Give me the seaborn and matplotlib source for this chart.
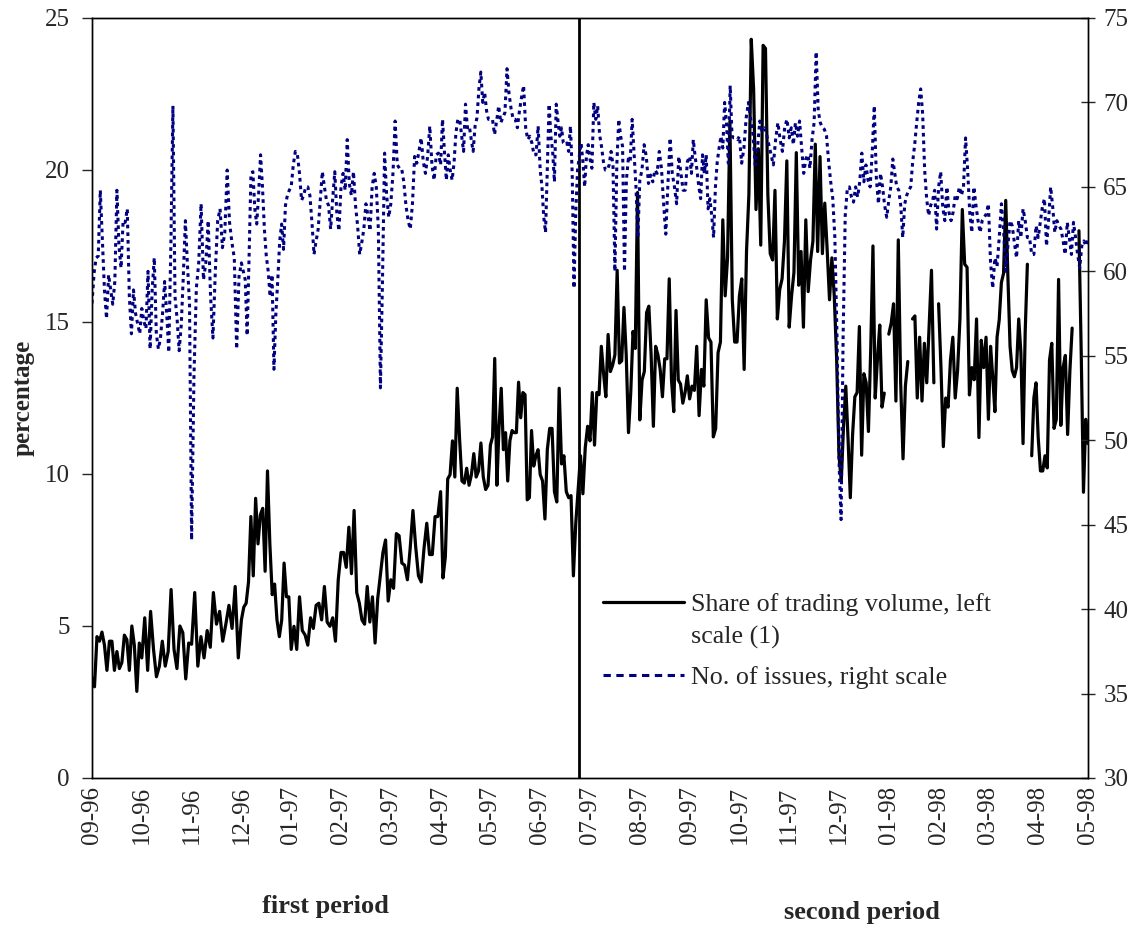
import numpy as np
import pandas as pd
import matplotlib.pyplot as plt
import seaborn as sns

# Tick labels (month-year), one per month boundary
month_labels = [
    "09-96", "10-96", "11-96", "12-96", "01-97", "02-97", "03-97",
    "04-97", "05-97", "06-97", "07-97", "08-97", "09-97", "10-97",
    "11-97", "12-97", "01-98", "02-98", "03-98", "04-98", "05-98",
]

# Share of trading volume (%), left scale - daily values grouped by month
nan = np.nan
share_volume = [
    [3.3, 3.0, 4.65, 4.5, 4.8, 4.37, 3.54, 4.5, 4.5, 3.54, 4.16, 3.6, 3.8, 4.7, 4.55, 3.54, 5.0, 4.37, 2.85, 4.44],
    [3.95, 5.27, 3.54, 5.48, 4.23, 3.33, 3.68, 4.5, 3.68, 4.16, 6.2, 4.23, 3.6, 5.0, 4.78, 3.26, 4.44],
    [4.4, 6.1, 3.68, 4.65, 3.95, 4.85, 4.3, 6.1, 5.06, 5.48, 4.5, 5.06, 5.68, 4.92, 6.3, 3.95],
    [5.2, 5.62, 5.75, 6.45, 8.6, 6.65, 9.2, 7.7, 8.66, 8.87, 6.8, 10.1, 7.7, 6.03, 6.38, 5.2, 4.65, 5.2, 7.07, 5.96, 5.96],
    [4.23, 4.99, 4.23, 5.96, 4.85, 4.71, 4.37, 5.27, 4.92, 5.68, 5.75, 5.2, 6.3, 5.13, 4.99, 5.27, 4.5, 6.52],
    [7.42, 7.42, 6.93, 8.25, 6.72, 8.8, 6.1, 5.75, 5.2, 5.06, 6.3, 5.13, 5.96, 4.44, 5.9, 6.65, 7.42, 7.83, 5.82],
    [6.52, 6.24, 8.04, 7.97, 7.07, 7.0, 6.52, 7.55, 8.8, 7.6, 6.65, 6.45, 7.55, 8.38, 7.35, 7.35, 8.6, 8.6],
    [9.42, 6.58, 7.28, 9.84, 9.98, 11.09, 9.9, 12.82, 11.15, 9.77, 9.7, 10.19, 9.63, 9.98, 10.67, 9.9, 10.1, 11.02, 9.9, 9.49, 9.63],
    [10.95, 11.22, 13.8, 9.63, 11.57, 12.82, 10.8, 11.36, 9.77, 11.09, 11.43, 11.36, 11.36, 13.02, 11.85, 12.68, 12.61, 9.15, 9.22, 11.43, 10.26, 10.6, 10.8],
    [9.98, 9.77, 8.52, 10.8, 11.5, 11.5, 9.42, 9.08, 12.82, 10.33, 10.6, 9.42, 9.22, 9.29, 6.65, 8.38, 9.49, 10.6, 9.35, 10.87, 11.57],
    [11.09, 12.68, 10.95, 12.68, 12.61, 14.2, 13.3, 12.54, 14.59, 13.37, 13.58, 13.92, 16.7, 13.65, 13.72, 15.48, 13.92, 11.36, 12.68, 14.69, 14.13, 19.26],
    [11.78, 13.09, 13.37, 15.31, 15.52, 13.92, 11.57, 14.2, 13.92, 13.44, 12.54, 13.79, 13.79, 16.42, 13.09, 12.05, 15.38, 13.09, 12.96, 12.33, 12.68, 13.23],
    [12.47, 12.89, 12.75, 14.2, 11.92, 13.44, 12.89, 15.73, 14.48, 14.34, 11.22, 11.5, 13.99, 14.34, 18.36, 15.86, 17.11, 21.61, 15.73, 14.34, 14.34],
    [15.86, 16.42, 13.44, 17.32, 19.19, 24.3, 22.65, 18.7, 20.7, 17.53, 24.1, 24.0, 19.19, 17.25, 17.04, 19.33, 15.1, 16.07, 16.42, 17.66, 20.3],
    [14.83, 15.86, 16.63, 20.57, 16.21, 17.32, 14.83, 18.36, 16.0, 17.04, 17.66, 20.85, 17.32, 20.44, 17.25, 18.91, 17.39, 15.73, 17.11, 15.86, 13.79],
    [10.6, 9.77, 11.57, 12.89, 11.15, 9.22, 11.29, 12.54, 12.68, 14.85, 10.62, 13.3, 13.0, 11.4, 14.06, 17.5, 12.5, 13.8, 14.9, 12.2, 12.66, nan],
    [14.6, 14.96, 15.6, 12.4, 17.7, 13.0, 10.5, 12.9, 13.7, nan, 15.1, 15.2, 12.5, 14.5, 12.4, 14.3, 13.0, 14.85, 16.7, 13.0, nan],
    [15.6, 13.5, 10.9, 12.5, 12.2, 13.75, 14.5, 12.5, 13.4, 15.1, 18.7, 16.9, 16.8, 12.6, 13.5, 13.1, 15.1, 11.2, 14.4, 13.5, 14.5],
    [11.8, 14.2, 13.2, 12.05, 14.5, 15.07, 16.3, 16.6, 19.0, 16.5, 14.2, 13.4, 13.2, 13.5, 15.1, 14.0, 11.0, 14.7, 16.9, nan, 10.6, 12.5, 13.0],
    [11.2, 10.1, 10.1, 10.6, 10.2, 13.75, 14.3, 11.5, 11.8, 16.4, 11.6, 13.5, 13.9, 11.3, 13.4, 14.8, nan, nan, 18.0, 14.0, 9.4, 11.8, 11.0],
]

# Number of issues, right scale - daily values grouped by month
n_issues = [
    [58.1, 59.9, 60.8, 60.9, 64.8, 61.8, 58.9, 57.2, 59.8, 58.9, 58.05, 59.4, 64.8, 61.5, 60.2, 63.0, 62.9, 63.7, 58.5, 56.3, 58.9, 57.5, 56.9, 56.3],
    [57.8, 57.05, 56.6, 60.0, 55.4, 58.9, 60.8, 56.3, 55.4, 56.05, 57.5, 59.4, 57.5, 55.2, 61.5, 69.8, 58.5, 57.2, 55.3, 56.8, 59.7, 63.0, 60.4, 58.05],
    [44.1, 53.8, 59.0, 60.5, 64.0, 59.5, 60.5, 63.0, 58.5, 56.05, 60.0, 63.0, 63.7, 61.4, 62.3, 66.0, 62.9, 61.7, 60.8, 55.4, 59.7],
    [60.5, 60.0, 59.5, 56.2, 60.8, 65.8, 65.9, 63.7, 62.8, 64.6, 66.9, 65.0, 62.5, 60.9, 60.0, 58.5, 59.8, 54.2, 57.5, 59.5, 61.8, 62.8, 61.3, 63.9, 64.5, 64.8],
    [65.0, 66.3, 67.1, 66.9, 65.8, 64.2, 64.5, 65.0, 65.0, 64.5, 62.9, 61.0, 61.8, 62.5, 64.2, 65.9, 65.0, 64.2, 63.9, 62.5, 64.3, 65.9, 63.4, 62.4],
    [65.0, 65.8, 64.8, 67.8, 65.2, 64.5, 65.9, 63.9, 62.7, 61.0, 61.7, 62.5, 64.0, 63.3, 62.4, 65.0, 65.8, 65.0, 62.5, 53.1, 59.5, 67.0, 64.5, 63.2],
    [64.0, 65.8, 68.9, 66.3, 66.1, 66.1, 65.3, 63.9, 63.0, 62.5, 64.0, 66.8, 66.4, 67.1, 67.9, 66.5, 65.8, 66.8, 68.6, 66.3, 65.4, 66.9, 67.0],
    [66.3, 69.0, 67.1, 65.4, 66.9, 66.0, 65.4, 66.4, 68.2, 69.0, 69.0, 68.0, 67.1, 69.9, 68.5, 68.6, 67.8, 67.1, 68.6, 69.1, 70.8, 71.8, 70.0, 70.6, 69.5, 69.0],
    [69.0, 69.0, 68.1, 68.9, 69.8, 68.8, 69.1, 69.4, 72.0, 70.5, 69.6, 69.0, 69.0, 68.5, 69.5, 70.3, 71.0, 68.5, 67.8, 68.0, 67.6, 66.9, 66.9, 68.6],
    [66.0, 65.0, 63.2, 62.3, 66.0, 69.9, 68.0, 67.1, 65.3, 69.9, 68.9, 68.0, 68.5, 67.6, 67.5, 67.6, 67.1, 68.6, 65.8, 59.0, 63.5, 66.0, 66.8, 67.6, 66.5, 65.0, 66.8, 67.5],
    [66.65, 66.1, 70.0, 69.0, 69.8, 68.1, 67.4, 66.5, 66.0, 66.0, 66.3, 67.1, 66.3, 60.0, 66.3, 69.0, 68.0, 67.4, 60.0, 65.4, 66.65, 66.5, 69.0, 67.0, 65.0, 62.0],
    [65.4, 66.0, 67.5, 66.8, 65.2, 65.7, 65.3, 66.0, 65.8, 67.1, 66.1, 64.0, 62.2, 65.2, 67.9, 65.8, 65.0, 64.0, 66.8, 65.8, 64.8, 64.8, 66.5],
    [66.8, 65.8, 67.8, 66.8, 66.0, 65.0, 64.3, 66.9, 65.8, 66.9, 63.7, 64.3, 63.3, 62.0, 65.0, 66.5, 67.3, 68.0, 67.3, 70.0, 68.8, 66.4, 71.0, 68.0, 67.9, 67.9, 67.8],
    [68.0, 66.4, 67.3, 69.1, 70.0, 69.0, 68.1, 66.3, 67.3, 68.9, 68.3, 68.5, 68.1, 67.5, 66.9, 66.3, 67.8, 68.8, 67.8, 67.1, 68.5, 69.0],
    [67.9, 68.5, 67.5, 68.8, 68.0, 68.9, 67.3, 65.8, 66.65, 66.9, 66.1, 67.8, 68.8, 73.0, 69.5, 68.8, 68.5, 68.4, 68.0, 66.5, 65.3, 64.3, 62.0, 56.3],
    [48.8, 45.3, 56.3, 63.3, 64.9, 65.0, 64.4, 64.1, 65.0, 64.4, 65.3, 67.0, 65.3, 66.3, 65.4, 65.0, 67.0, 69.8, 65.5, 64.0, 65.8, 65.0, 63.9, 63.2],
    [64.2, 65.0, 66.65, 65.8, 65.0, 64.8, 63.9, 62.0, 64.0, 64.5, 64.8, 65.0, 66.5, 67.5, 68.8, 70.0, 70.8, 69.3, 66.0, 64.3, 63.3, 63.9, 64.2, 64.8, 62.5],
    [65.0, 65.9, 63.8, 63.0, 65.0, 63.5, 63.0, 63.5, 64.5, 64.3, 65.0, 64.5, 65.0, 67.9, 66.0, 63.5, 62.3, 65.0, 63.9, 63.0, 62.3, 63.0, 63.2, 63.4],
    [64.0, 60.5, 59.0, 60.8, 60.3, 62.0, 64.0, 62.5, 60.0, 61.5, 63.0, 62.7, 61.7, 60.8, 63.0, 62.0, 63.7, 63.0, 62.0, 62.0, 61.0, 61.0, 62.7],
    [62.0, 62.9, 63.8, 64.3, 61.5, 63.0, 65.0, 63.8, 62.3, 63.0, 62.7, 62.5, 61.8, 61.0, 62.9, 62.0, 61.0, 62.9, 62.0, 61.0, 60.2, 61.5, 61.8, 61.5, 62.0],
]

# Boundary between the two periods (in months since 09-96)
period_split = 9.78


def month_positions(months):
    # spread the daily values of each month evenly inside that month
    xs = []
    for m, vals in enumerate(months):
        n = len(vals)
        step = 1 / (n - 1) if m == len(months) - 1 else 1 / n
        xs.extend(m + step * np.arange(n))
    return np.array(xs)


# Tabelas
df_share = pd.DataFrame({
    "month": month_positions(share_volume),
    "value": np.concatenate([np.array(v, dtype=float) for v in share_volume]),
})
df_share["segment"] = df_share["value"].isna().cumsum()
df_share = df_share.dropna()

df_issues = pd.DataFrame({
    "month": month_positions(n_issues),
    "value": np.concatenate([np.array(v, dtype=float) for v in n_issues]),
})

sns.set_style("white")
plt.rcParams["font.family"] = ["Liberation Serif", "DejaVu Serif"]

fig = plt.figure(figsize=(11.44, 9.26), dpi=100)
ax = fig.add_axes([92 / 1144, 1 - 778 / 926, 996 / 1144, 760 / 926])
ax2 = ax.twinx()

sns.lineplot(
    data=df_share, x="month", y="value", units="segment", estimator=None,
    color="black", linewidth=2.3, sort=False, ax=ax,
)
sns.lineplot(
    data=df_issues, x="month", y="value", estimator=None,
    color="#000080", linewidth=2.2, sort=False, ax=ax2,
)
ax2.lines[0].set_linestyle((0, (1.2, 1.3)))

ax.axvline(period_split, color="black", linewidth=2.0)

# Eixos
ax.set_xlim(0, 20)
ax.set_ylim(0, 25)
ax2.set_ylim(30, 75)
ax.set_yticks(range(0, 26, 5))
ax2.set_yticks(range(30, 76, 5))
ax.set_xticks(range(len(month_labels)))
ax.set_xticklabels(month_labels, rotation=90)
ax.set_xlabel("")
ax2.set_xlabel("")
ax2.set_ylabel("")

ax.tick_params(axis="x", length=0, pad=6, labelsize=18)
ax.tick_params(axis="y", direction="out", length=7, width=1, pad=9,
               labelsize=18, left=True)
ax2.tick_params(axis="y", direction="inout", length=10, width=1, pad=6,
                labelsize=18, right=True)

for a in (ax, ax2):
    for s in a.spines.values():
        s.set_color("black")
        s.set_linewidth(1.0)

ax.set_ylabel("percentage", fontsize=18, fontweight="bold")
ax.yaxis.set_label_coords(-0.058, 0.5)

# Legenda
handles = [ax.lines[0], ax2.lines[0]]
labels = ["Share of trading volume, left\nscale (1)", "No. of issues, right scale"]
leg = ax.legend(
    handles, labels, loc="upper left",
    bbox_to_anchor=(603 / 1144, 1 - 593 / 926), bbox_transform=fig.transFigure,
    frameon=False, fontsize=18.7, handlelength=3.1, handletextpad=0.3,
    borderpad=0, borderaxespad=0, labelspacing=0.65,
)
for t in leg.get_texts():
    t.set_linespacing(1.58)
# line sample of the two-line entry sits at the first text line
first = leg.legend_handles[0]
first.set_ydata(np.asarray(first.get_ydata()) + 13.5)
leg.legend_handles[1].set_linestyle((0, (2.4, 1.8)))
ax.set_zorder(ax2.get_zorder())

fig.text(325 / 1144, 1 - 907 / 926, "first period", ha="center", va="center",
         fontsize=19, fontweight="bold")
fig.text(862 / 1144, 1 - 912 / 926, "second period", ha="center", va="center",
         fontsize=19, fontweight="bold")

fig.savefig("out.png", dpi=100)
